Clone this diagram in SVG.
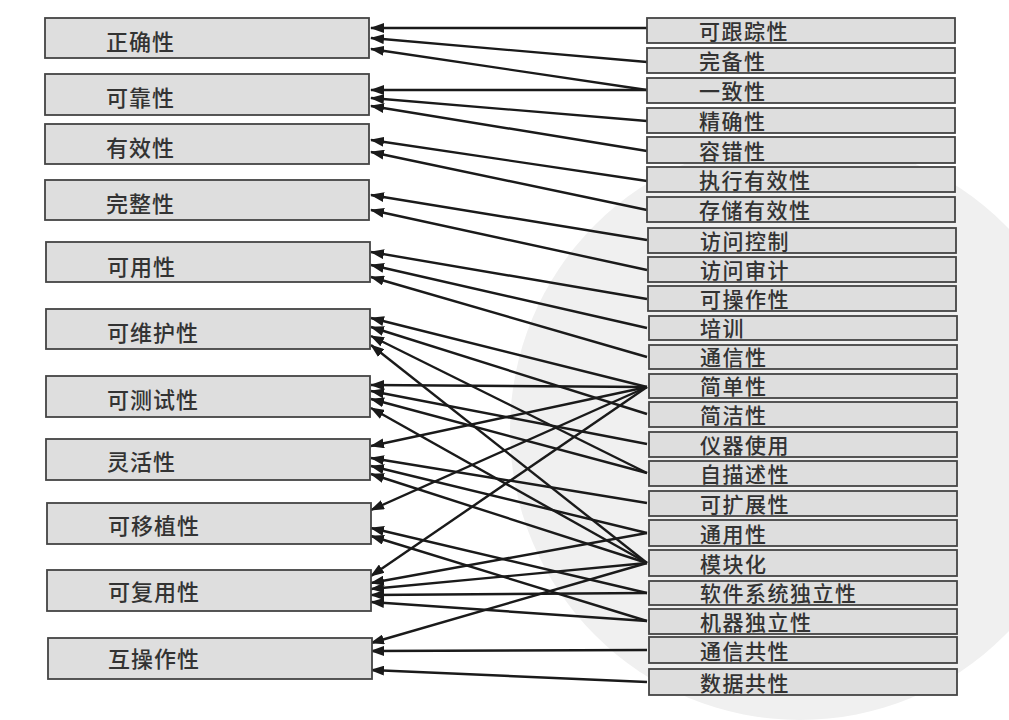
<svg xmlns="http://www.w3.org/2000/svg" width="1009" height="720" viewBox="0 0 1009 720">
<style>
.bg{fill:#ffffff}
.wm{fill:#f0f0f0}
.box{fill:#dedede;stroke:#444;stroke-width:1.8}
.lt{font-family:"Noto Sans CJK SC","Noto Sans",sans-serif;font-size:22px;fill:#333;letter-spacing:1px;font-weight:500}
.rt{font-family:"Noto Sans CJK SC","Noto Sans",sans-serif;font-size:21px;fill:#333;letter-spacing:1.5px;font-weight:500}
.cn line{stroke:#1a1a1a;stroke-width:2.4;marker-end:url(#ah)}
</style>
<defs>
<marker id="ah" viewBox="0 0 14 10" refX="13" refY="5" markerWidth="14" markerHeight="10" orient="auto" markerUnits="userSpaceOnUse">
<path d="M0,0 L14,5 L0,10 z" fill="#1a1a1a"/>
</marker>
</defs>
<rect class="bg" x="0" y="0" width="1009" height="720"/>
<circle class="wm" cx="800" cy="430" r="290"/>

<g id="connectors" class="cn">
<line x1="647" y1="28" x2="371" y2="28"/>
<line x1="647" y1="62" x2="371" y2="38"/>
<line x1="647" y1="90" x2="371" y2="49"/>
<line x1="647" y1="90" x2="371" y2="90"/>
<line x1="647" y1="121" x2="371" y2="98"/>
<line x1="647" y1="151" x2="371" y2="106"/>
<line x1="647" y1="181" x2="371" y2="140"/>
<line x1="647" y1="210" x2="371" y2="152"/>
<line x1="647" y1="240" x2="371" y2="195"/>
<line x1="647" y1="270" x2="371" y2="210"/>
<line x1="647" y1="299" x2="371" y2="252"/>
<line x1="647" y1="328" x2="371" y2="265"/>
<line x1="647" y1="357" x2="371" y2="277"/>
<line x1="647" y1="387" x2="371" y2="318"/>
<line x1="647" y1="414" x2="371" y2="327"/>
<line x1="647" y1="473" x2="371" y2="336"/>
<line x1="647" y1="563" x2="371" y2="345"/>
<line x1="647" y1="387" x2="371" y2="385"/>
<line x1="647" y1="444" x2="371" y2="391"/>
<line x1="647" y1="473" x2="371" y2="399"/>
<line x1="647" y1="563" x2="371" y2="408"/>
<line x1="647" y1="387" x2="371" y2="446"/>
<line x1="647" y1="503" x2="371" y2="458"/>
<line x1="647" y1="533" x2="371" y2="466"/>
<line x1="647" y1="563" x2="371" y2="474"/>
<line x1="647" y1="387" x2="371" y2="510"/>
<line x1="647" y1="593" x2="371" y2="528"/>
<line x1="647" y1="621" x2="371" y2="536"/>
<line x1="647" y1="387" x2="371" y2="576"/>
<line x1="647" y1="533" x2="371" y2="583"/>
<line x1="647" y1="563" x2="371" y2="589"/>
<line x1="647" y1="593" x2="371" y2="595"/>
<line x1="647" y1="621" x2="371" y2="602"/>
<line x1="647" y1="563" x2="371" y2="643"/>
<line x1="647" y1="650" x2="371" y2="651"/>
<line x1="647" y1="682" x2="371" y2="670"/>
</g>

<g id="L1"><rect class="box" x="45" y="18" width="324" height="40"/><text class="lt" x="106" y="50">正确性</text></g>
<g id="L2"><rect class="box" x="45" y="74" width="324" height="41"/><text class="lt" x="106" y="106">可靠性</text></g>
<g id="L3"><rect class="box" x="45" y="124" width="324" height="40"/><text class="lt" x="106" y="156">有效性</text></g>
<g id="L4"><rect class="box" x="45" y="180" width="324" height="40"/><text class="lt" x="106" y="212">完整性</text></g>
<g id="L5"><rect class="box" x="46" y="242" width="324" height="40"/><text class="lt" x="107" y="275">可用性</text></g>
<g id="L6"><rect class="box" x="46" y="309" width="324" height="40"/><text class="lt" x="107" y="341">可维护性</text></g>
<g id="L7"><rect class="box" x="46" y="376" width="324" height="41"/><text class="lt" x="107" y="408">可测试性</text></g>
<g id="L8"><rect class="box" x="46" y="439" width="324" height="41"/><text class="lt" x="107" y="470">灵活性</text></g>
<g id="L9"><rect class="box" x="47" y="503" width="324" height="41"/><text class="lt" x="108" y="534">可移植性</text></g>
<g id="L10"><rect class="box" x="47" y="570" width="324" height="41"/><text class="lt" x="108" y="600">可复用性</text></g>
<g id="L11"><rect class="box" x="48" y="638" width="324" height="41"/><text class="lt" x="108" y="667">互操作性</text></g>

<g id="R1"><rect class="box" x="647" y="18" width="308" height="25"/><text class="rt" x="699" y="39">可跟踪性</text></g>
<g id="R2"><rect class="box" x="647" y="48" width="308" height="25"/><text class="rt" x="699" y="69">完备性</text></g>
<g id="R3"><rect class="box" x="647" y="78" width="308" height="25"/><text class="rt" x="699" y="99">一致性</text></g>
<g id="R4"><rect class="box" x="647" y="108" width="308" height="25"/><text class="rt" x="699" y="129">精确性</text></g>
<g id="R5"><rect class="box" x="647" y="137" width="308" height="26"/><text class="rt" x="699" y="159">容错性</text></g>
<g id="R6"><rect class="box" x="647" y="167" width="308" height="25"/><text class="rt" x="699" y="188">执行有效性</text></g>
<g id="R7"><rect class="box" x="647" y="197" width="308" height="25"/><text class="rt" x="699" y="218">存储有效性</text></g>
<g id="R8"><rect class="box" x="648" y="228" width="308" height="25"/><text class="rt" x="700" y="249">访问控制</text></g>
<g id="R9"><rect class="box" x="648" y="257" width="308" height="25"/><text class="rt" x="700" y="278">访问审计</text></g>
<g id="R10"><rect class="box" x="648" y="286" width="308" height="25"/><text class="rt" x="700" y="307">可操作性</text></g>
<g id="R11"><rect class="box" x="649" y="316" width="308" height="24"/><text class="rt" x="700" y="336">培训</text></g>
<g id="R12"><rect class="box" x="649" y="345" width="308" height="24"/><text class="rt" x="700" y="365">通信性</text></g>
<g id="R13"><rect class="box" x="649" y="374" width="308" height="24"/><text class="rt" x="700" y="394">简单性</text></g>
<g id="R14"><rect class="box" x="649" y="402" width="308" height="25"/><text class="rt" x="700" y="423">简洁性</text></g>
<g id="R15"><rect class="box" x="649" y="432" width="308" height="25"/><text class="rt" x="700" y="453">仪器使用</text></g>
<g id="R16"><rect class="box" x="649" y="461" width="308" height="25"/><text class="rt" x="700" y="482">自描述性</text></g>
<g id="R17"><rect class="box" x="649" y="491" width="308" height="25"/><text class="rt" x="700" y="512">可扩展性</text></g>
<g id="R18"><rect class="box" x="649" y="520" width="308" height="26"/><text class="rt" x="700" y="542">通用性</text></g>
<g id="R19"><rect class="box" x="649" y="550" width="308" height="26"/><text class="rt" x="700" y="572">模块化</text></g>
<g id="R20"><rect class="box" x="649" y="581" width="308" height="24"/><text class="rt" x="700" y="601">软件系统独立性</text></g>
<g id="R21"><rect class="box" x="649" y="609" width="308" height="25"/><text class="rt" x="700" y="630">机器独立性</text></g>
<g id="R22"><rect class="box" x="649" y="637" width="308" height="26"/><text class="rt" x="700" y="659">通信共性</text></g>
<g id="R23"><rect class="box" x="649" y="669" width="308" height="26"/><text class="rt" x="700" y="691">数据共性</text></g>
</svg>
